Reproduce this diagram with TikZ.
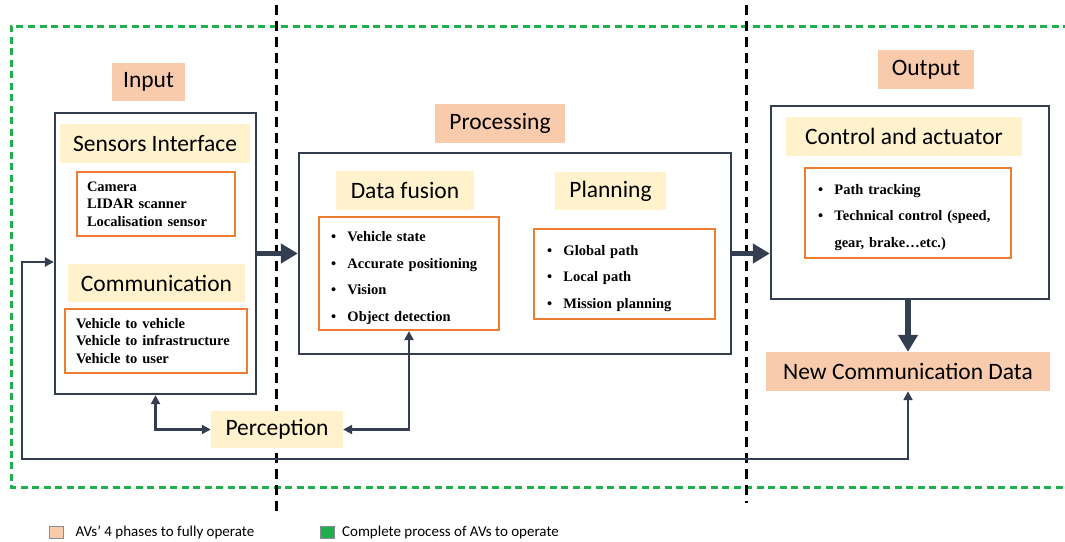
\documentclass[tikz,border=0pt]{standalone}
\usepackage{fontspec}
\setmainfont{Carlito}
\newfontfamily\boxserif{Liberation Serif}
\usetikzlibrary{arrows.meta,positioning}
\definecolor{navy}{HTML}{333F50}
\definecolor{phasecol}{HTML}{F8CBAD}
\definecolor{partcol}{HTML}{FFF2CC}
\definecolor{listcol}{HTML}{ED7D31}
\definecolor{loopcol}{HTML}{1DB04B}
\newcommand{\bul}{\makebox[16.5pt][l]{\textbullet}}
\newcommand{\firstline}{\rule{0pt}{19pt}}
\tikzstyle{every node}=[inner sep=0pt]
\tikzstyle{phasebox}=[fill=phasecol,font=\fontsize{23.5}{28}\selectfont]
\tikzstyle{partbox}=[fill=partcol,font=\fontsize{23.5}{28}\selectfont]
\tikzstyle{stagebox}=[draw=navy,line width=2.3pt]
\tikzstyle{itembox}=[draw=listcol,line width=2.2pt,align=left,font=\boxserif\bfseries\fontsize{14.5}{17.5}\selectfont]
\tikzstyle{spaced}=[font=\boxserif\bfseries\fontsize{14.5}{26.5}\selectfont]
\tikzstyle{linkarrow}=[navy,line width=2.5pt,{Triangle[length=9pt,width=9pt]}-{Triangle[length=9pt,width=9pt]}]
\tikzstyle{flowarrow}=[navy,line width=5.5pt,-{Triangle[length=17pt,width=19pt]}]
\tikzstyle{divider}=[black,line width=3pt,dash pattern=on 10pt off 6pt]
\tikzstyle{loopline}=[loopcol,line width=3pt,dash pattern=on 7pt off 4.5pt]
\tikzstyle{legend}=[font=\fontsize{15}{17}\selectfont]

\begin{document}
\begin{tikzpicture}[x=1pt,y=-1pt]
    \useasboundingbox (0,0) rectangle (1065,541);
    \draw[loopline] (1070,26) -- (11,26) -- (11,487) -- (1070,487);
    \draw[divider] (276,5) -- (276,517);
    \draw[divider] (746,5) -- (746,503);

    % input
    \node[phasebox,minimum width=73pt,minimum height=38pt] (inputlbl) at (148.5,82) {Input};
    \node[stagebox,minimum width=201pt,minimum height=281pt] (inbox) at (155.5,253.5) {};
    \node[partbox,minimum width=190pt,minimum height=39pt] (sensorlbl) at (155,143.5) {Sensors Interface};
    \node[itembox,minimum height=64pt,text width=138pt,inner xsep=10pt] (sensoritems) at (156,204)
        {Camera\\LIDAR scanner\\Localisation sensor};
    \node[partbox,minimum width=177pt,minimum height=38pt] (commlbl) at (156.5,283) {Communication};
    \node[itembox,minimum height=64pt,text width=160pt,inner xsep=11pt] (commitems) at (156,341)
        {Vehicle to vehicle\\Vehicle to infrastructure\\Vehicle to user};

    % processing
    \node[phasebox,minimum width=130pt,minimum height=39pt] (proclbl) at (500,123.5) {Processing};
    \node[stagebox,minimum width=432pt,minimum height=201pt] (procbox) at (515,253.5) {};
    \node[partbox,minimum width=138pt,minimum height=39pt] (fusionlbl) at (405,190.5) {Data fusion};
    \node[itembox,spaced,minimum height=113pt,text width=156pt,inner xsep=12pt] (fusionitems) at (409,273.5)
        {\firstline\bul Vehicle state\\\bul Accurate positioning\\\bul Vision\\\bul Object detection};
    \node[partbox,minimum width=111pt,minimum height=38pt] (planlbl) at (610.5,191) {Planning};
    \node[itembox,spaced,minimum height=90pt,text width=155pt,inner xsep=13pt] (planitems) at (624.5,274)
        {\firstline\bul Global path\\\bul Local path\\\bul Mission planning};

    % output
    \node[phasebox,minimum width=96pt,minimum height=39pt] (outlbl) at (926,69.5) {Output};
    \node[stagebox,minimum width=278pt,minimum height=193pt] (ctrlbox) at (910,202.5) {};
    \node[partbox,minimum width=236pt,minimum height=39pt] (ctrllbl) at (904,136.5) {Control and actuator};
    \node[itembox,spaced,minimum height=90pt,text width=180pt,inner xsep=13pt] (ctrlitems) at (908,213)
        {\firstline\bul Path tracking\\\bul Technical control (speed,\\\hspace*{16.5pt}gear, brake…etc.)};
    \node[phasebox,minimum width=284pt,minimum height=39pt] (newdata) at (908,371.5) {New Communication Data};

    \node[partbox,minimum width=132pt,minimum height=37pt] (perception) at (277,429.5) {Perception};

    \draw[flowarrow] (inbox) -- (procbox);
    \draw[flowarrow] (procbox.east) -- (procbox.east -| ctrlbox.west);
    \draw[flowarrow] (ctrlbox.south -| newdata.north) -- (newdata.north);
    \draw[linkarrow] (inbox.south) |- (perception.west);
    \draw[linkarrow] (perception.east) -| (fusionitems.south);
    \coordinate (loopcorner) at (22,459);
    \draw[linkarrow] ([yshift=-8.5pt]inbox.west) -| (loopcorner) -| (newdata.south);

    % legend
    \node[draw=navy!60,line width=0.8pt,fill=phasecol,minimum width=14pt,minimum height=12pt] (phasekey) at (56,532.5) {};
    \node[legend,right=12pt of phasekey] (phasekeytxt) {AVs’ 4 phases to fully operate};
    \node[draw=navy!60,line width=0.8pt,fill=loopcol,minimum width=14pt,minimum height=12pt] (loopkey) at (327.5,532.5) {};
    \node[legend,right=7pt of loopkey] (loopkeytxt) {Complete process of AVs to operate};
\end{tikzpicture}
\end{document}
